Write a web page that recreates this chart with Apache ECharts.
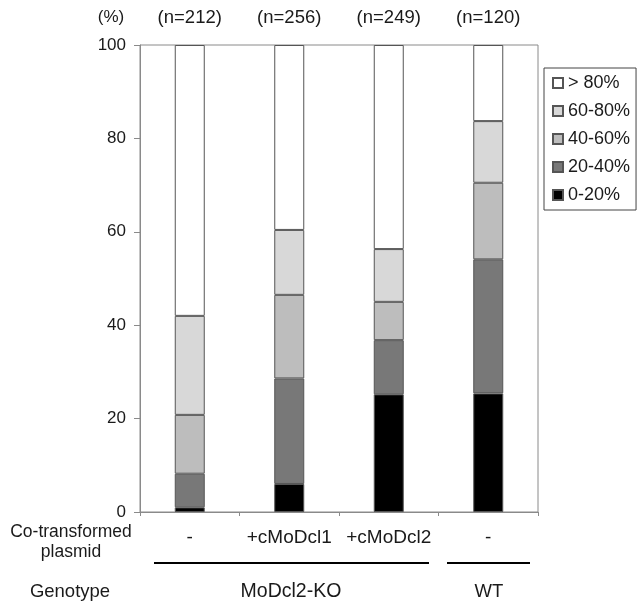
<!DOCTYPE html>
<html>
<head>
<meta charset="utf-8">
<script src="https://cdn.jsdelivr.net/npm/echarts@6/dist/echarts.min.js"></script>
<style>html,body{margin:0;padding:0;background:#fff;}#c{width:637px;height:604px;}</style>
</head>
<body>
<div id="c"></div>
<script>
const categories = ['-', '+cMoDcl1', '+cMoDcl2', '-'];
const nLabels = ['(n=212)', '(n=256)', '(n=249)', '(n=120)'];
const seriesNames = ['0-20%', '20-40%', '40-60%', '60-80%', '> 80%'];
const v0_20 = [1.0, 6.0, 25.2, 25.4];
const v20_40 = [7.2, 22.6, 11.6, 28.7];
const v40_60 = [12.6, 17.9, 8.2, 16.4];
const v60_80 = [21.2, 13.9, 11.3, 13.2];
const v80 = [58.0, 39.6, 43.7, 16.3];
const yTicks = [0, 20, 40, 60, 80, 100];

const values = [v0_20, v20_40, v40_60, v60_80, v80];
const colors = ['#000000', '#787878', '#bdbdbd', '#d8d8d8', '#ffffff'];
const FONT = 'Liberation Sans';
const TXT = '#1a1a1a';

const chart = echarts.init(document.getElementById('c'), null, {renderer: 'canvas'});
chart.setOption({
  animation: false,
  backgroundColor: '#fff',
  textStyle: {fontFamily: FONT},
  grid: {left: 140, right: 99, top: 45, bottom: 92, show: true, borderColor: '#8a8a8a', borderWidth: 1, backgroundColor: 'transparent'},
  legend: {
    orient: 'vertical', left: 544, top: 68,
    data: seriesNames.slice().reverse(),
    itemWidth: 10, itemHeight: 10, itemGap: 10,
    icon: 'rect',
    padding: [6, 6, 6, 8],
    borderColor: '#444', borderWidth: 1,
    textStyle: {fontFamily: FONT, fontSize: 18, color: TXT}
  },
  xAxis: [
    {
      type: 'category', data: categories, position: 'bottom',
      axisLine: {lineStyle: {color: '#8a8a8a'}},
      axisTick: {show: true, length: 4, lineStyle: {color: '#8a8a8a'}},
      axisLabel: {fontFamily: FONT, fontSize: 19, color: TXT, margin: 16, interval: 0, hideOverlap: false}
    },
    {
      type: 'category', data: nLabels, position: 'top',
      axisLine: {show: false}, axisTick: {show: false},
      axisLabel: {fontFamily: FONT, fontSize: 18.5, color: TXT, margin: 18, interval: 0, hideOverlap: false}
    }
  ],
  yAxis: {
    type: 'value', min: yTicks[0], max: yTicks[yTicks.length - 1], interval: 20,
    splitLine: {show: false},
    axisLine: {show: true, lineStyle: {color: '#8a8a8a'}},
    axisTick: {show: true, length: 6, lineStyle: {color: '#8a8a8a'}},
    axisLabel: {fontFamily: FONT, fontSize: 17, color: TXT, margin: 14}
  },
  series: seriesNames.map((name, i) => ({
    name: name, type: 'bar', stack: 'total', barWidth: 30,
    data: values[i],
    itemStyle: {color: colors[i], borderColor: '#555', borderWidth: 1}
  })),
  graphic: [
    {type: 'text', x: 111, y: 17, style: {text: '(%)', font: '17px "Liberation Sans"', fill: TXT, align: 'center', verticalAlign: 'middle'}},
    {type: 'text', x: 71, y: 542, style: {text: 'Co-transformed\nplasmid', font: '17.5px "Liberation Sans"', fill: TXT, align: 'center', verticalAlign: 'middle', lineHeight: 20}},
    {type: 'line', shape: {x1: 154, y1: 563, x2: 429, y2: 563}, style: {stroke: '#000', lineWidth: 2}},
    {type: 'line', shape: {x1: 447, y1: 563, x2: 530, y2: 563}, style: {stroke: '#000', lineWidth: 2}},
    {type: 'text', x: 70, y: 592, style: {text: 'Genotype', font: '18.5px "Liberation Sans"', fill: TXT, align: 'center', verticalAlign: 'middle'}},
    {type: 'text', x: 291, y: 592, style: {text: 'MoDcl2-KO', font: '19.5px "Liberation Sans"', fill: TXT, align: 'center', verticalAlign: 'middle'}},
    {type: 'text', x: 489, y: 592, style: {text: 'WT', font: '18.5px "Liberation Sans"', fill: TXT, align: 'center', verticalAlign: 'middle'}}
  ]
});
</script>
</body>
</html>
